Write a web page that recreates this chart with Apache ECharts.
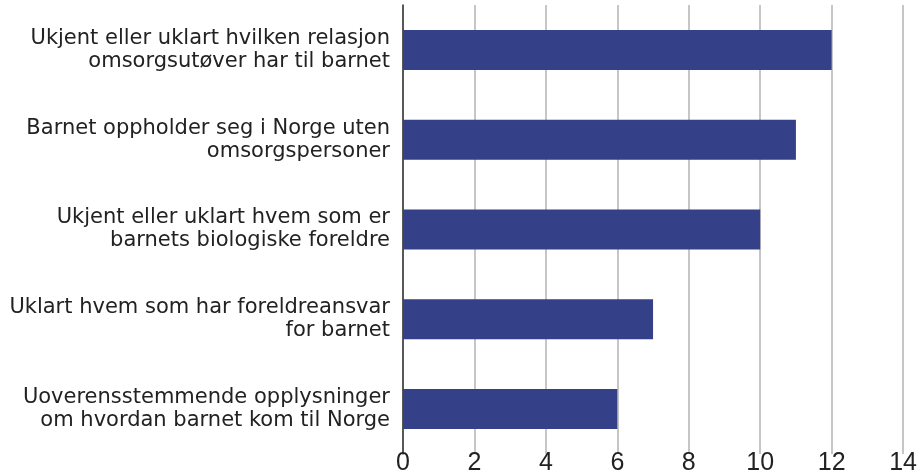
<!DOCTYPE html>
<html>
<head>
<meta charset="utf-8">
<script src="https://cdn.jsdelivr.net/npm/echarts@6/dist/echarts.min.js"></script>
<style>
  html, body { margin: 0; padding: 0; background: #fff; }
  #chart { width: 920px; height: 476px; }
</style>
</head>
<body>
<div id="chart"></div>
<script>
const categories = [
  'Ukjent eller uklart hvilken relasjon\nomsorgsutøver har til barnet',
  'Barnet oppholder seg i Norge uten\nomsorgspersoner',
  'Ukjent eller uklart hvem som er\nbarnets biologiske foreldre',
  'Uklart hvem som har foreldreansvar\nfor barnet',
  'Uoverensstemmende opplysninger\nom hvordan barnet kom til Norge'
]
const values = [12, 11, 10, 7, 6]
const xTicks = { min: 0, max: 14, interval: 2 }

const myChart = echarts.init(document.getElementById('chart'))
myChart.setOption({
  animation: false,
  grid: {
    left: 403,
    right: 15,
    top: 5,
    bottom: 18
  },
  xAxis: {
    type: 'value',
    min: xTicks.min,
    max: xTicks.max,
    interval: xTicks.interval,
    axisLine: { show: false },
    axisTick: { show: false },
    axisLabel: {
      margin: -3,
      fontFamily: 'Liberation Sans',
      fontSize: 25,
      color: '#222'
    },
    splitLine: {
      lineStyle: { color: '#b3b3b3', width: 1.5 }
    }
  },
  yAxis: {
    type: 'category',
    inverse: true,
    data: categories,
    axisLine: { show: true, lineStyle: { color: '#333', width: 1.5 } },
    axisTick: { show: false },
    axisLabel: {
      margin: 13,
      fontFamily: 'DejaVu Sans',
      fontSize: 21,
      lineHeight: 23,
      color: '#222',
      align: 'right'
    }
  },
  series: [{
    type: 'bar',
    data: values,
    barWidth: 40,
    itemStyle: { color: '#344189' }
  }]
})
</script>
</body>
</html>
